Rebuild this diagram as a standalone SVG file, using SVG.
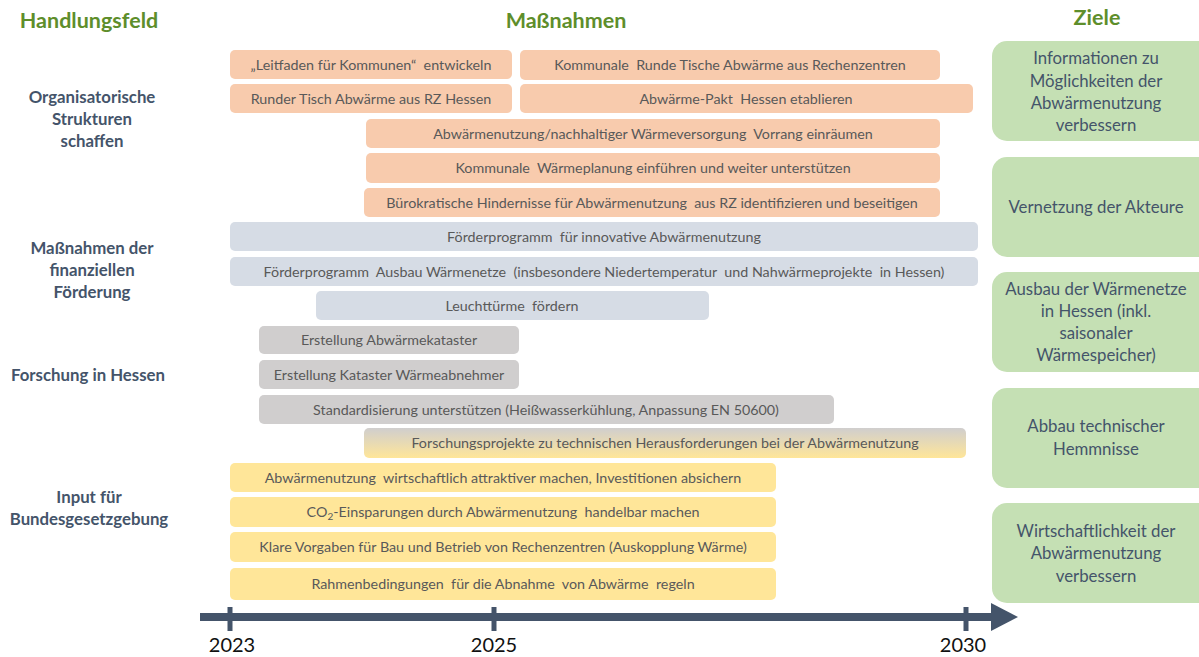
<svg xmlns="http://www.w3.org/2000/svg" width="1199" height="657" viewBox="0 0 1199 657">
<style>
.hdr{font-family:Lato,"Open Sans",sans-serif;font-weight:bold;font-size:21.5px;fill:#5E8E2B;text-anchor:middle}
.fld{font-family:Lato,"Open Sans",sans-serif;font-weight:bold;font-size:16.8px;fill:#44546A;text-anchor:middle}
.bt{font-family:Lato,"Open Sans",sans-serif;font-size:14.3px;fill:#595959;text-anchor:middle;white-space:pre}
.gt{font-family:Lato,"Open Sans",sans-serif;font-size:16.8px;fill:#44546A;text-anchor:middle}
.yr{font-family:Lato,"Open Sans",sans-serif;font-size:20px;fill:#111;text-anchor:middle}
.o{fill:#F8CBAD}
.b{fill:#D6DCE5}
.g{fill:#D0CECE}
.y{fill:#FFE699}
.z{fill:#C5E0B4}
</style>
<defs>
<linearGradient id="gy" x1="0" y1="0" x2="0" y2="1">
<stop offset="0" stop-color="#D0CECE"/>
<stop offset="1" stop-color="#FFE699"/>
</linearGradient>
</defs>
<rect width="1199" height="657" fill="#fff"/>

<g id="headers">
<text class="hdr" x="89" y="28">Handlungsfeld</text>
<text class="hdr" x="566" y="28">Maßnahmen</text>
<text class="hdr" x="1097" y="25">Ziele</text>
</g>

<g id="fields">
<text class="fld" x="92" y="103">Organisatorische</text>
<text class="fld" x="92" y="125">Strukturen</text>
<text class="fld" x="92" y="147">schaffen</text>
<text class="fld" x="92" y="254">Maßnahmen der</text>
<text class="fld" x="92" y="276">finanziellen</text>
<text class="fld" x="92" y="298">Förderung</text>
<text class="fld" x="88" y="381">Forschung in Hessen</text>
<text class="fld" x="89" y="503">Input für</text>
<text class="fld" x="89" y="525">Bundesgesetzgebung</text>
</g>

<g id="m1" xml:space="preserve"><rect class="o" x="230" y="50" width="282" height="29" rx="5"/><text class="bt" x="371" y="69.5">„Leitfaden für Kommunen“  entwickeln</text></g>
<g id="m2" xml:space="preserve"><rect class="o" x="520" y="50" width="420" height="30" rx="5"/><text class="bt" x="730" y="70">Kommunale  Runde Tische Abwärme aus Rechenzentren</text></g>
<g id="m3" xml:space="preserve"><rect class="o" x="230" y="84" width="282" height="29" rx="5"/><text class="bt" x="371" y="103.5">Runder Tisch Abwärme aus RZ Hessen</text></g>
<g id="m4" xml:space="preserve"><rect class="o" x="520" y="84" width="453" height="29" rx="5"/><text class="bt" x="746" y="103.5">Abwärme-Pakt  Hessen etablieren</text></g>
<g id="m5" xml:space="preserve"><rect class="o" x="366" y="119" width="574" height="29" rx="5"/><text class="bt" x="653" y="138.5">Abwärmenutzung/nachhaltiger Wärmeversorgung  Vorrang einräumen</text></g>
<g id="m6" xml:space="preserve"><rect class="o" x="366" y="153" width="574" height="30" rx="5"/><text class="bt" x="653" y="173">Kommunale  Wärmeplanung einführen und weiter unterstützen</text></g>
<g id="m7" xml:space="preserve"><rect class="o" x="364" y="188" width="576" height="29" rx="5"/><text class="bt" x="652" y="207.5">Bürokratische Hindernisse für Abwärmenutzung  aus RZ identifizieren und beseitigen</text></g>

<g id="m8" xml:space="preserve"><rect class="b" x="230" y="222" width="748" height="29" rx="5"/><text class="bt" x="604" y="242">Förderprogramm  für innovative Abwärmenutzung</text></g>
<g id="m9" xml:space="preserve"><rect class="b" x="230" y="257" width="748" height="29" rx="5"/><text class="bt" x="604" y="276.5">Förderprogramm  Ausbau Wärmenetze  (insbesondere Niedertemperatur  und Nahwärmeprojekte  in Hessen)</text></g>
<g id="m10" xml:space="preserve"><rect class="b" x="316" y="291" width="393" height="29" rx="5"/><text class="bt" x="512" y="310.5">Leuchttürme  fördern</text></g>

<g id="m11" xml:space="preserve"><rect class="g" x="259" y="326" width="260" height="28" rx="5"/><text class="bt" x="389" y="345">Erstellung Abwärmekataster</text></g>
<g id="m12" xml:space="preserve"><rect class="g" x="259" y="360" width="260" height="29" rx="5"/><text class="bt" x="389" y="379.5">Erstellung Kataster Wärmeabnehmer</text></g>
<g id="m13" xml:space="preserve"><rect class="g" x="259" y="395" width="575" height="29" rx="5"/><text class="bt" x="546" y="414.5">Standardisierung unterstützen (Heißwasserkühlung, Anpassung EN 50600)</text></g>
<g id="m14" xml:space="preserve"><rect fill="url(#gy)" x="364" y="428" width="602" height="30" rx="5"/><text class="bt" x="665" y="448">Forschungsprojekte zu technischen Herausforderungen bei der Abwärmenutzung</text></g>

<g id="m15" xml:space="preserve"><rect class="y" x="230" y="463" width="546" height="29" rx="5"/><text class="bt" x="503" y="482.5">Abwärmenutzung  wirtschaftlich attraktiver machen, Investitionen absichern</text></g>
<g id="m16" xml:space="preserve"><rect class="y" x="230" y="497" width="546" height="30" rx="5"/><text class="bt" x="503" y="517">CO<tspan font-size="10" dy="3">2</tspan><tspan dy="-3">-Einsparungen durch Abwärmenutzung  handelbar machen</tspan></text></g>
<g id="m17" xml:space="preserve"><rect class="y" x="230" y="532" width="546" height="30" rx="5"/><text class="bt" x="503" y="552">Klare Vorgaben für Bau und Betrieb von Rechenzentren (Auskopplung Wärme)</text></g>
<g id="m18" xml:space="preserve"><rect class="y" x="230" y="568" width="546" height="32" rx="5"/><text class="bt" x="503" y="589">Rahmenbedingungen  für die Abnahme  von Abwärme  regeln</text></g>

<g id="z1"><rect class="z" x="992" y="41" width="222" height="100" rx="15"/>
<text class="gt" x="1096" y="64">Informationen zu</text><text class="gt" x="1096" y="87">Möglichkeiten der</text><text class="gt" x="1096" y="109">Abwärmenutzung</text><text class="gt" x="1096" y="131">verbessern</text></g>
<g id="z2"><rect class="z" x="992" y="157" width="222" height="100" rx="15"/>
<text class="gt" x="1096" y="213">Vernetzung der Akteure</text></g>
<g id="z3"><rect class="z" x="992" y="272" width="222" height="100" rx="15"/>
<text class="gt" x="1096" y="295">Ausbau der Wärmenetze</text><text class="gt" x="1096" y="317">in Hessen (inkl.</text><text class="gt" x="1096" y="339">saisonaler</text><text class="gt" x="1096" y="361">Wärmespeicher)</text></g>
<g id="z4"><rect class="z" x="992" y="388" width="222" height="100" rx="15"/>
<text class="gt" x="1096" y="432">Abbau technischer</text><text class="gt" x="1096" y="455">Hemmnisse</text></g>
<g id="z5"><rect class="z" x="992" y="503" width="222" height="100" rx="15"/>
<text class="gt" x="1096" y="537">Wirtschaftlichkeit der</text><text class="gt" x="1096" y="559">Abwärmenutzung</text><text class="gt" x="1096" y="582">verbessern</text></g>

<g id="timeline" fill="#44546A">
<rect x="200" y="613" width="793" height="8"/>
<polygon points="991,603 1018,617 991,631"/>
<rect x="227.5" y="607" width="5" height="24"/>
<rect x="491.5" y="607" width="5" height="24"/>
<rect x="963.5" y="607" width="5" height="24"/>
</g>
<g id="years">
<text class="yr" x="232" y="652">2023</text>
<text class="yr" x="494" y="652">2025</text>
<text class="yr" x="963" y="652">2030</text>
</g>
</svg>
